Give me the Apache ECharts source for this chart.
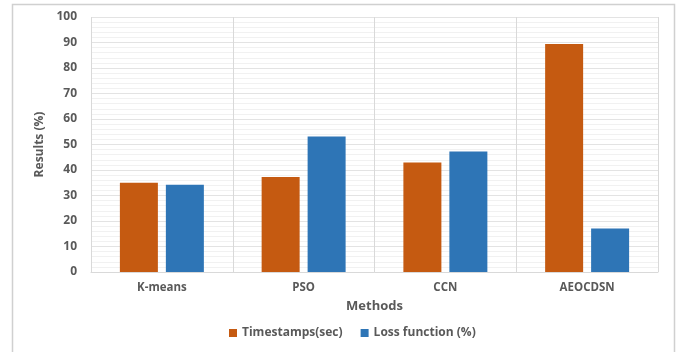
<!DOCTYPE html>
<html>
<head>
<meta charset="utf-8">
<script src="https://cdn.jsdelivr.net/npm/echarts@6/dist/echarts.min.js"></script>
<style>html,body{margin:0;padding:0;background:#fff;}#c{width:679px;height:352px;}</style>
</head>
<body>
<div id="c"></div>
<script>
var categories = ['K-means', 'PSO', 'CCN', 'AEOCDSN'];
var timestamps = [35.0, 37.3, 42.9, 89.4];
var lossFunction = [34.2, 53.1, 47.3, 17.1];
var seriesNames = ['Timestamps(sec)', 'Loss function (%)'];

var chart = echarts.init(document.getElementById('c'), null, {renderer: 'canvas'});
var txt = '#595959';
var font = 'Open Sans';
chart.setOption({
  animation: false,
  backgroundColor: '#fff',
  graphic: [{
    type: 'rect', shape: {x: 12.5, y: 4.5, width: 662, height: 360},
    style: {fill: 'none', stroke: '#d0d0d0', lineWidth: 1.5}, z: -10
  }],
  grid: {left: 91, right: 21, top: 17, bottom: 80},
  legend: {
    data: seriesNames, bottom: 8, left: 224, itemWidth: 8, itemHeight: 8, itemGap: 18,
    icon: 'rect',
    textStyle: {color: txt, fontWeight: 'bold', fontSize: 12, fontFamily: font}
  },
  xAxis: {
    type: 'category', data: categories,
    name: 'Methods', nameLocation: 'middle', nameGap: 28,
    nameTextStyle: {color: txt, fontWeight: 'bold', fontSize: 13, fontFamily: font},
    axisLine: {lineStyle: {color: '#d9d9d9'}},
    axisTick: {show: false},
    axisLabel: {color: txt, fontWeight: 'bold', fontSize: 11.5, fontFamily: font, margin: 10},
    splitLine: {show: true, lineStyle: {color: '#d9d9d9'}}
  },
  yAxis: {
    type: 'value', min: 0, max: 100, interval: 10,
    name: 'Results (%)', nameLocation: 'middle', nameGap: 40, nameRotate: 90,
    nameTextStyle: {color: txt, fontWeight: 'bold', fontSize: 12, fontFamily: font},
    axisLine: {show: false}, axisTick: {show: false},
    axisLabel: {color: txt, fontWeight: 'bold', fontSize: 12, fontFamily: font, margin: 14},
    splitLine: {lineStyle: {color: '#e3e3e3'}},
    minorTick: {show: false, splitNumber: 5},
    minorSplitLine: {show: true, lineStyle: {color: '#f1f1f1'}}
  },
  series: [
    {name: seriesNames[0], type: 'bar', data: timestamps, barWidth: 38, barGap: '21%',
     itemStyle: {color: '#C55A11'}},
    {name: seriesNames[1], type: 'bar', data: lossFunction, barWidth: 38, barGap: '21%',
     itemStyle: {color: '#2E75B6'}}
  ]
});
</script>
</body>
</html>
